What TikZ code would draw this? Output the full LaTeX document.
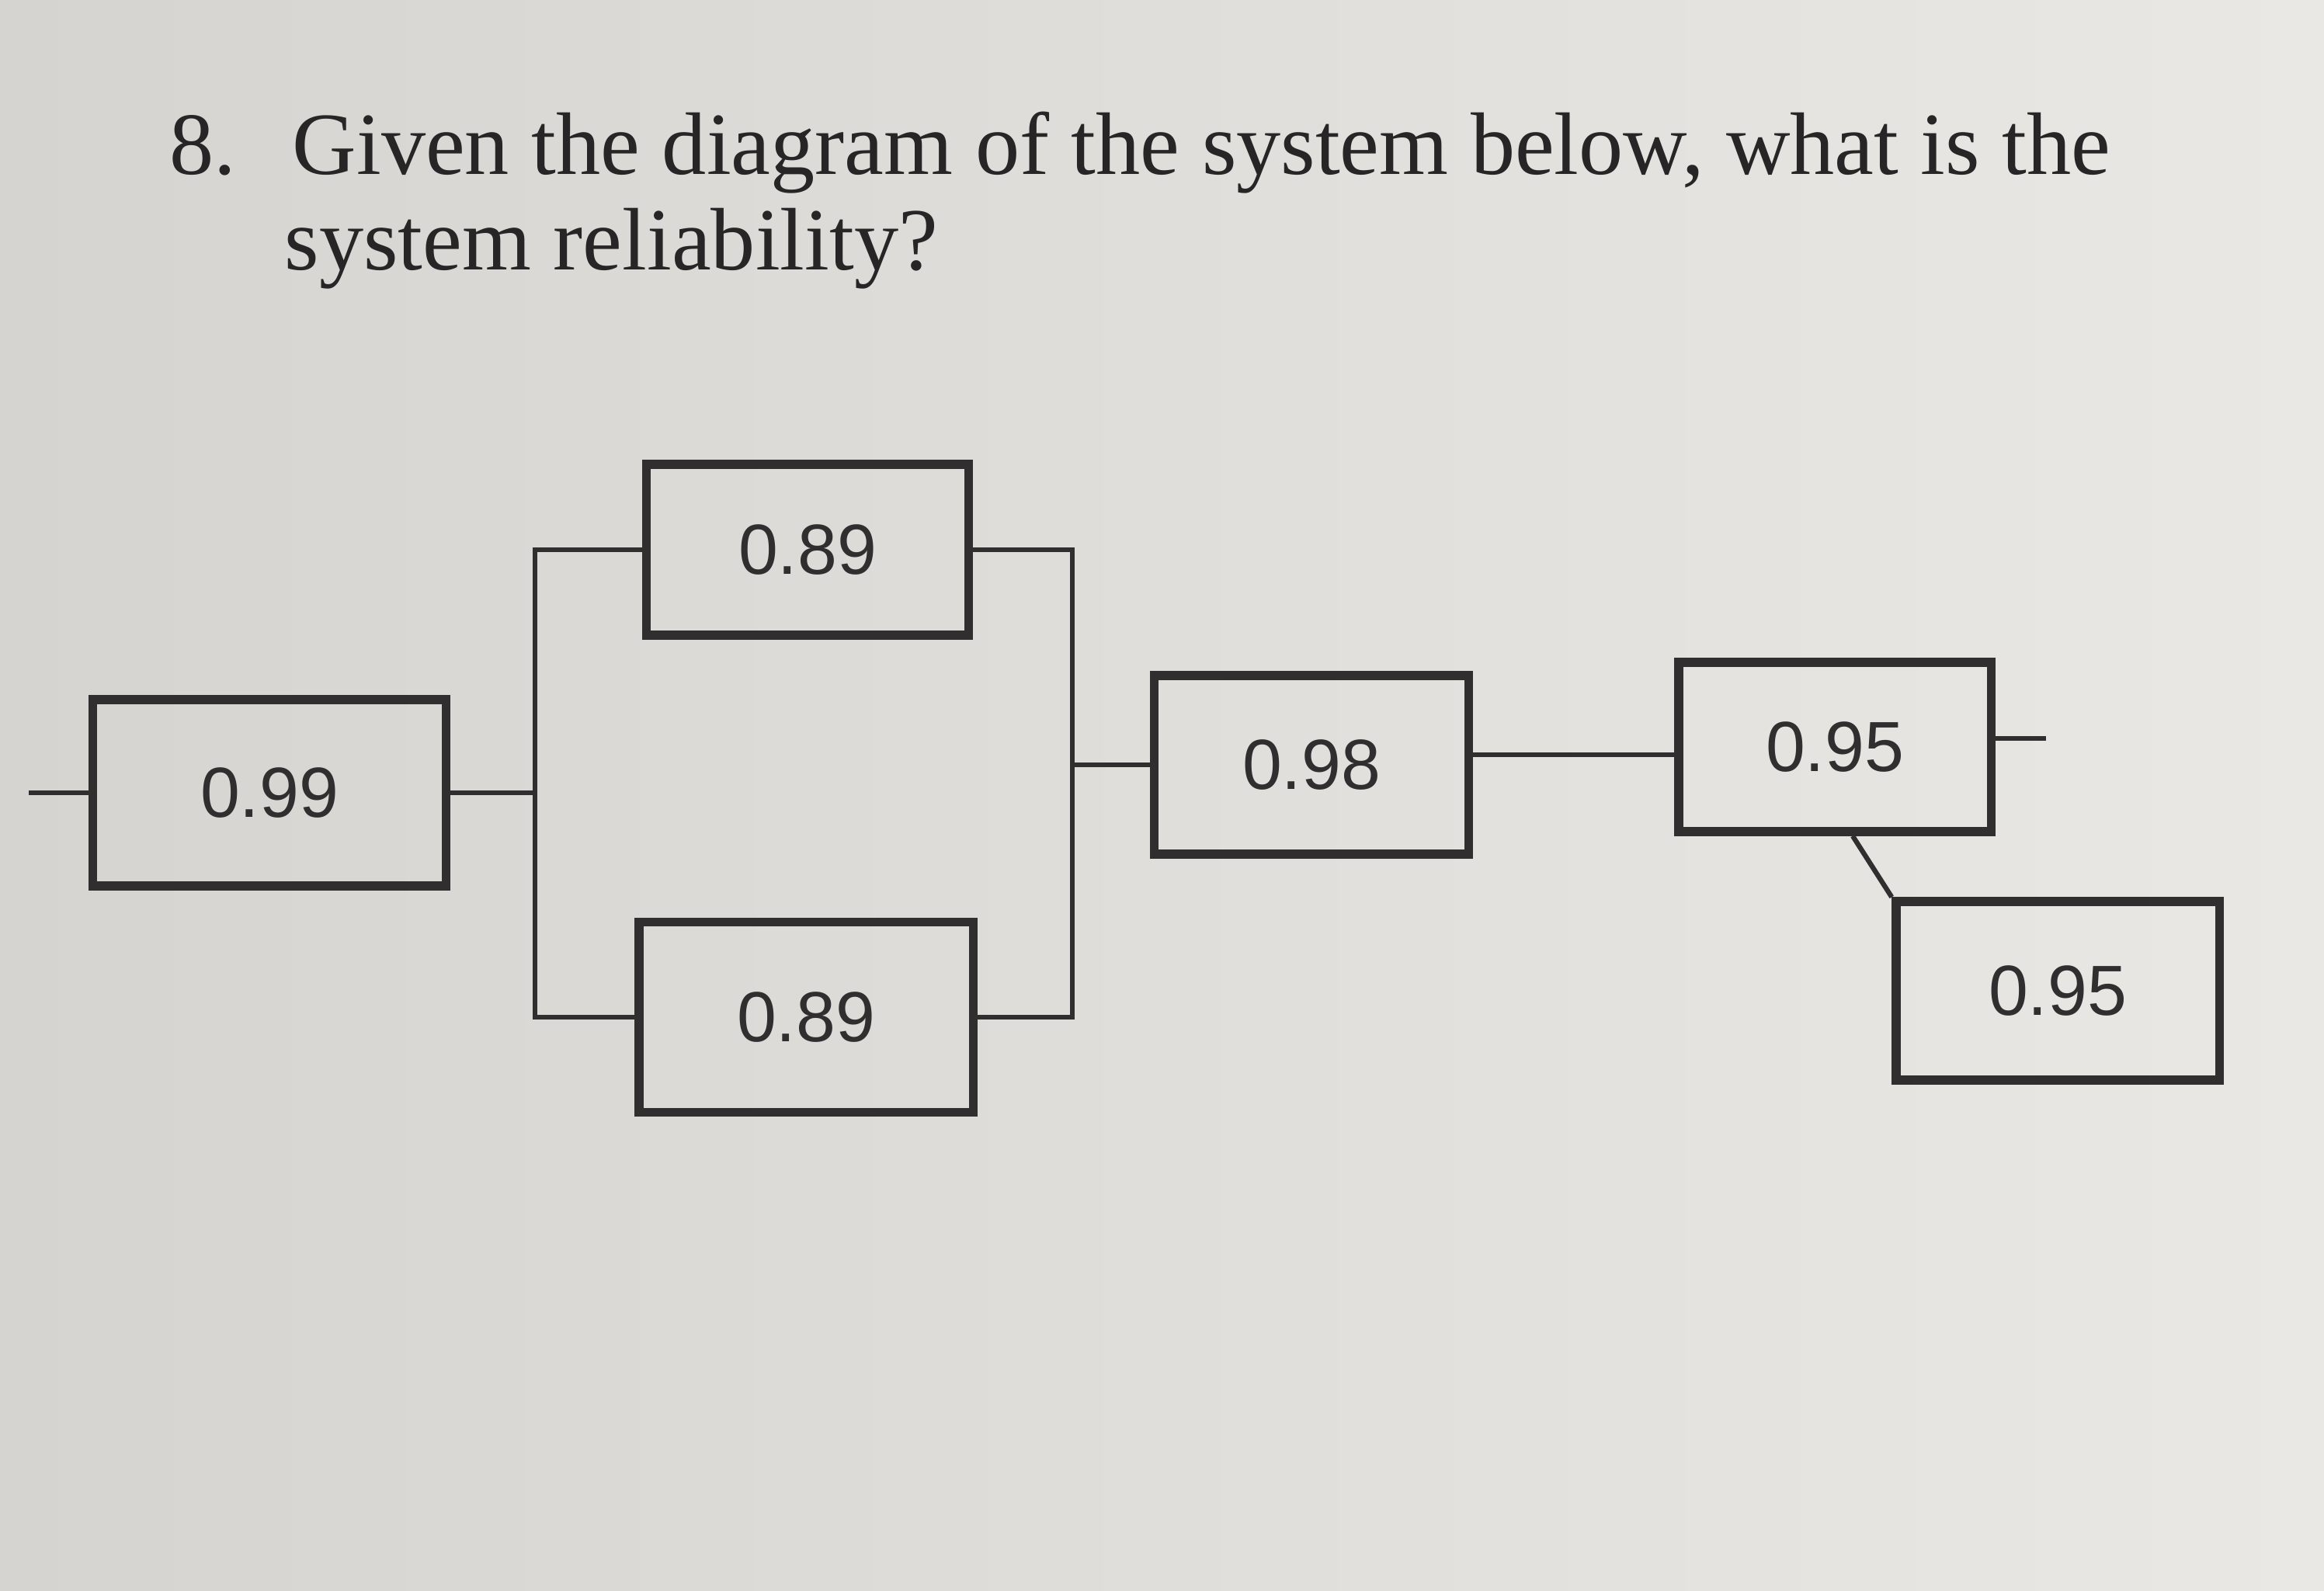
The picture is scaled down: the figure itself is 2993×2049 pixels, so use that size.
\documentclass[tikz,border=0pt]{standalone}
\usepackage{fontspec}
\usepackage{tikz}
\usepackage{xcolor}
\usetikzlibrary{positioning}
\newfontfamily\boxfont{Liberation Sans}
\newfontfamily\questionfont{Liberation Serif}
\definecolor{paperdark}{RGB}{213,212,208}
\definecolor{paperlight}{RGB}{233,232,228}
\definecolor{inkgray}{RGB}{48,46,46}
\tikzset{
    relbox/.style={rectangle, draw=inkgray, line width=3.2pt, minimum width=4.2cm, minimum height=2.3cm, font=\boxfont\fontsize{26}{31}\selectfont, text=inkgray},
    wire/.style={draw=inkgray, line width=1.8pt},
    question/.style={anchor=base west, inner sep=0pt, font=\questionfont\fontsize{32.5}{38}\selectfont, text=inkgray!80!black}
}

\begin{document}
\begin{tikzpicture}[x=0.01cm, y=-0.01cm]
                    \shade[left color=paperdark, right color=paperlight] (0,0) rectangle (2993,2049);
                    \useasboundingbox (0,0) rectangle (2993,2049);

                    \node[question] (qline1) at (218,225) {8.\hspace{0.3em} Given the diagram of the system below, what is the};
                    \node[question] (qline2) at (366,348) {system reliability?};

                    \node[relbox, minimum width=4.55cm, minimum height=2.4cm] (r099) at (347,1021) {0.99};
                    \node[relbox, minimum width=4.15cm, minimum height=2.2cm] (r089a) at (1040,708) {0.89};
                    \node[relbox, minimum width=4.3cm, minimum height=2.45cm] (r089b) at (1038,1310) {0.89};
                    \node[relbox, minimum width=4.05cm, minimum height=2.3cm] (r098) at (1689,985) {0.98};
                    \node[relbox, minimum width=4.02cm, minimum height=2.18cm] (r095a) at (2363,962) {0.95};
                    \node[relbox, minimum width=4.16cm, minimum height=2.3cm] (r095b) at (2650,1276) {0.95};

                    \coordinate (feed) at (37,1021);
                    \coordinate (busL) at (689,1021);
                    \coordinate (busR) at (1381,985);
                    \coordinate (link) at (1900,972);
                    \coordinate (exit) at (2635,951);

                    \draw[wire] (feed) -- (r099.west);
                    \draw[wire] (r099.east) -- (busL);
                    \draw[wire] (r089a.west) -| (busL) |- (r089b.west);
                    \draw[wire] (r089a.east) -| (busR) |- (r089b.east);
                    \draw[wire] (busR) -- (r098.west);
                    \draw[wire] (r098.east |- link) -- (r095a.west |- link);
                    \draw[wire] (r095a.east |- exit) -- (exit);
                    \draw[wire] ([xshift=0.23cm]r095a.south) -- (r095b.north west);
                \end{tikzpicture}
\end{document}
